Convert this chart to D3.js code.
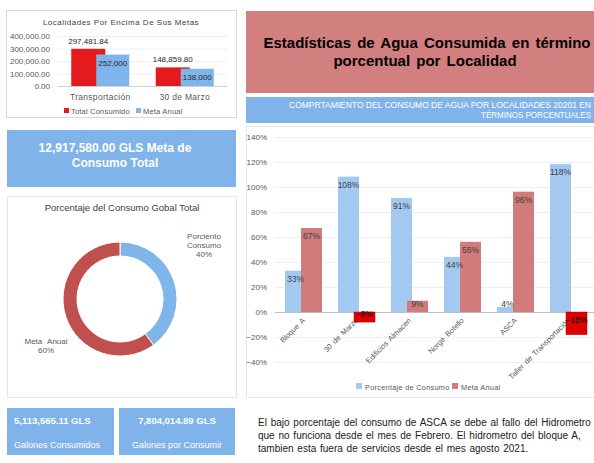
<!DOCTYPE html>
<html>
<head>
<meta charset="utf-8">
<script src="https://cdn.jsdelivr.net/npm/d3@7"></script>
<style>
  html, body { margin: 0; padding: 0; background: #fff; }
  svg { display: block; font-family: "Liberation Sans", Arial, sans-serif; }
</style>
</head>
<body>
<svg id="dash" width="594" height="463"></svg>
<script>
// ---- data ----
const metaCats = ["Transportación", "30 de Marzo"];
const totalConsumido = [297481.84, 148859.80];
const metaAnual = [252000, 138000];
const metaTicks = [0, 100000, 200000, 300000, 400000];

const pieLabels = ["Porciento Consumo", "Meta Anual"];
const pieValues = [40, 60];

const localidades = ["Bloque A", "30 de Marzo", "Edificios Almacen", "Norge Botello", "ASCA", "Taller de Transportación"];
const porcentajeConsumo = [0.33, 1.08, 0.91, 0.44, 0.04, 1.18];
const metaAnualPct = [0.67, -0.08, 0.09, 0.56, 0.96, -0.18];
const pctTicks = [-0.4, -0.2, 0, 0.2, 0.4, 0.6, 0.8, 1.0, 1.2, 1.4];

const metaTotal = 12917580.00;
const galonesConsumidos = 5113565.11;
const galonesPorConsumir = 7804014.89;

const fmt2 = d3.format(",.2f");
const fmt0 = d3.format(",");
const fmtPct = d3.format(".0%");

const svg = d3.select("#dash");
svg.append("rect").attr("width", 594).attr("height", 463).attr("fill", "#fff");

// ---- panel: localidades por encima de sus metas ----
const p1 = svg.append("g");
p1.append("rect").attr("x", 6.5).attr("y", 10.5).attr("width", 230).attr("height", 107)
  .attr("fill", "#fff").attr("stroke", "#d9d9d9");
p1.append("text").attr("x", 121).attr("y", 25).attr("text-anchor", "middle")
  .attr("font-size", 8).attr("letter-spacing", 0.5).attr("fill", "#404040")
  .text("Localidades Por Encima De Sus Metas");

const y1 = d3.scaleLinear().domain([0, 400000]).range([86, 36]);
const x1 = d3.scaleBand().domain(metaCats).range([58, 227]);

p1.append("g").selectAll("line").data(metaTicks).join("line")
  .attr("x1", 58).attr("x2", 227)
  .attr("y1", d => y1(d) + 0.5).attr("y2", d => y1(d) + 0.5)
  .attr("stroke", d => d === 0 ? "#d0d0d0" : "#efefef");

const ax1 = p1.append("g").attr("transform", "translate(53,0)")
  .call(d3.axisLeft(y1).tickValues(metaTicks).tickFormat(fmt2).tickSize(0));
ax1.select(".domain").remove();
ax1.selectAll("text").attr("font-size", 8).attr("fill", "#595959")
  .attr("font-family", "Liberation Sans, Arial, sans-serif");

const bw1 = 34;
p1.append("g").selectAll("rect").data(metaCats).join("rect")
  .attr("x", d => x1(d) + x1.bandwidth() / 2 - 29)
  .attr("y", (d, i) => y1(totalConsumido[i]))
  .attr("width", bw1)
  .attr("height", (d, i) => y1(0) - y1(totalConsumido[i]))
  .attr("fill", "#e41a1c");
p1.append("g").selectAll("rect").data(metaCats).join("rect")
  .attr("x", d => x1(d) + x1.bandwidth() / 2 - 4)
  .attr("y", (d, i) => y1(metaAnual[i]))
  .attr("width", bw1 - 1)
  .attr("height", (d, i) => y1(0) - y1(metaAnual[i]))
  .attr("fill", "#7fb5ea");

p1.append("g").selectAll("text").data(metaCats).join("text")
  .attr("x", d => x1(d) + x1.bandwidth() / 2 - 12)
  .attr("y", (d, i) => y1(totalConsumido[i]) - 5)
  .attr("text-anchor", "middle").attr("font-size", 8).attr("fill", "#262626")
  .text((d, i) => fmt2(totalConsumido[i]));
p1.append("g").selectAll("text").data(metaCats).join("text")
  .attr("x", d => x1(d) + x1.bandwidth() / 2 + 12.5)
  .attr("y", (d, i) => y1(metaAnual[i]) + 11)
  .attr("text-anchor", "middle").attr("font-size", 8).attr("fill", "#262626")
  .text((d, i) => fmt0(metaAnual[i]));

p1.append("g").selectAll("text").data(metaCats).join("text")
  .attr("x", d => x1(d) + x1.bandwidth() / 2)
  .attr("y", 100)
  .attr("text-anchor", "middle").attr("font-size", 8.5).attr("fill", "#595959")
  .attr("letter-spacing", 0.3)
  .text(d => d);

const lg1 = p1.append("g").attr("font-size", 7.5).attr("fill", "#595959").attr("letter-spacing", 0.2);
lg1.append("rect").attr("x", 64).attr("y", 108).attr("width", 5).attr("height", 5).attr("fill", "#e41a1c");
lg1.append("text").attr("x", 71).attr("y", 114).text("Total Consumido");
lg1.append("rect").attr("x", 136).attr("y", 108).attr("width", 5).attr("height", 5).attr("fill", "#7fb5ea");
lg1.append("text").attr("x", 143).attr("y", 114).text("Meta Anual");

// ---- meta total banner ----
svg.append("rect").attr("x", 7).attr("y", 130).attr("width", 229).attr("height", 57).attr("fill", "#7fb3ea");
const mt = svg.append("text").attr("text-anchor", "middle").attr("fill", "#fff")
  .attr("font-weight", "bold").attr("font-size", 12);
mt.append("tspan").attr("x", 115).attr("y", 152).text(fmt2(metaTotal) + " GLS Meta de");
mt.append("tspan").attr("x", 115).attr("y", 167).text("Consumo Total");

// ---- donut: porcentaje del consumo global ----
const p2 = svg.append("g");
p2.append("rect").attr("x", 7.5).attr("y", 196.5).attr("width", 229).attr("height", 201)
  .attr("fill", "#fff").attr("stroke", "#e6e6e6");
p2.append("text").attr("x", 122).attr("y", 211).attr("text-anchor", "middle")
  .attr("font-size", 9.5).attr("fill", "#404040").text("Porcentaje del Consumo Gobal Total");

const pieCols = ["#7eb5ea", "#c0504d"];
const arcs = d3.pie().sort(null)(pieValues);
const arcGen = d3.arc().innerRadius(43).outerRadius(57);
p2.append("g").attr("transform", "translate(120,299)")
  .selectAll("path").data(arcs).join("path")
  .attr("d", arcGen).attr("fill", (d, i) => pieCols[i])
  .attr("stroke", "#fff").attr("stroke-width", 1);

const pl = p2.append("g").attr("font-size", 8).attr("fill", "#595959").attr("text-anchor", "middle");
const l0 = pl.append("text");
l0.append("tspan").attr("x", 204).attr("y", 239).text("Porciento");
l0.append("tspan").attr("x", 204).attr("y", 248).text("Consumo");
l0.append("tspan").attr("x", 204).attr("y", 257).text(pieValues[0] + "%");
const l1 = pl.append("text").attr("word-spacing", 3);
l1.append("tspan").attr("x", 46).attr("y", 344).text(pieLabels[1]);
l1.append("tspan").attr("x", 46).attr("y", 353).text(pieValues[1] + "%");

// ---- bottom tiles ----
const tiles = [
  { x: 7, w: 107, v: galonesConsumidos, t: "Galones Consumidos", anchor: "start", tx: 14 },
  { x: 119, w: 116, v: galonesPorConsumir, t: "Galones por Consumir", anchor: "middle", tx: 177 }
];
const tg = svg.append("g").selectAll("g").data(tiles).join("g");
tg.append("rect").attr("x", d => d.x).attr("y", 408).attr("width", d => d.w).attr("height", 47).attr("fill", "#7fb3ea");
tg.append("text").attr("x", d => d.tx).attr("y", 424).attr("text-anchor", d => d.anchor)
  .attr("fill", "#fff").attr("font-size", 9.5).attr("font-weight", "bold")
  .text(d => fmt2(d.v) + " GLS");
tg.append("text").attr("x", d => d.tx).attr("y", 448).attr("text-anchor", d => d.anchor)
  .attr("fill", "#fff").attr("font-size", 9)
  .text(d => d.t);

// ---- title ----
svg.append("rect").attr("x", 246).attr("y", 11).attr("width", 360).attr("height", 82).attr("fill", "#d17f7f");
const tt = svg.append("text").attr("text-anchor", "middle").attr("font-weight", "bold")
  .attr("font-size", 15).attr("fill", "#000").attr("word-spacing", 2);
tt.append("tspan").attr("x", 427).attr("y", 48).text("Estadísticas de Agua Consumida en término");
tt.append("tspan").attr("x", 425).attr("y", 66).text("porcentual por Localidad");

svg.append("rect").attr("x", 246).attr("y", 97).attr("width", 360).attr("height", 26).attr("fill", "#7fb3ea");
const st = svg.append("text").attr("fill", "#fff").attr("font-size", 8.3);
st.append("tspan").attr("x", 289).attr("y", 108)
  .attr("textLength", 302).attr("lengthAdjust", "spacingAndGlyphs")
  .text("COMPRTAMIENTO DEL  CONSUMO DE AGUA POR LOCALIDADES 20201 EN");
st.append("tspan").attr("x", 481).attr("y", 118)
  .attr("textLength", 110).attr("lengthAdjust", "spacingAndGlyphs")
  .text("TÉRMINOS PORCENTUALES");

// ---- panel: porcentaje por localidad ----
const p3 = svg.append("g");
p3.append("rect").attr("x", 246.5).attr("y", 126.5).attr("width", 360).attr("height", 271)
  .attr("fill", "#fff").attr("stroke", "#e6e6e6");

const y3 = d3.scaleLinear().domain([-0.4, 1.4]).range([362.2, 136.5]);
const x3 = d3.scaleBand().domain(localidades).range([277, 595]);

p3.append("g").selectAll("line").data(pctTicks).join("line")
  .attr("x1", 275).attr("x2", 600)
  .attr("y1", d => Math.round(y3(d)) + 0.5).attr("y2", d => Math.round(y3(d)) + 0.5)
  .attr("stroke", d => d === 0 ? "#bfbfbf" : "#efefef");

const ax3 = p3.append("g").attr("transform", "translate(270,0)")
  .call(d3.axisLeft(y3).tickValues(pctTicks).tickFormat(fmtPct).tickSize(0));
ax3.select(".domain").remove();
ax3.selectAll("text").attr("font-size", 8).attr("fill", "#595959")
  .attr("font-family", "Liberation Sans, Arial, sans-serif");

// category labels sit under the bars
p3.append("g").selectAll("text").data(localidades).join("text")
  .attr("transform", d => `translate(${x3(d) + x3.bandwidth() / 2 + 2},${y3(0) + 9}) rotate(-45)`)
  .attr("text-anchor", "end").attr("font-size", 7.5).attr("fill", "#595959")
  .attr("word-spacing", 1.5)
  .text(d => d);

const bw3 = 21;
const z = y3(0);
p3.append("g").selectAll("rect").data(localidades).join("rect")
  .attr("x", d => x3(d) + 8).attr("width", bw3)
  .attr("y", (d, i) => Math.min(y3(porcentajeConsumo[i]), z))
  .attr("height", (d, i) => Math.abs(y3(porcentajeConsumo[i]) - z))
  .attr("fill", "#a3c9f1");
p3.append("g").selectAll("rect").data(localidades).join("rect")
  .attr("x", d => x3(d) + 24).attr("width", bw3)
  .attr("y", (d, i) => Math.min(y3(metaAnualPct[i]), z))
  .attr("height", (d, i) => Math.abs(y3(metaAnualPct[i]) - z))
  .attr("fill", (d, i) => metaAnualPct[i] < 0 ? "#e00000" : "#d17b7b")
  .attr("stroke", (d, i) => metaAnualPct[i] < 0 ? "#a00000" : "none")
  .attr("stroke-width", 0.5);

// value labels near the bar end, kept inside short bars
function labelY(v) {
  const h = Math.abs(y3(v) - z);
  if (v >= 0) return h > 18 ? y3(v) + 11 : z - 5;
  return h > 18 ? z + 11 : z + 5;
}
p3.append("g").selectAll("text").data(localidades).join("text")
  .attr("x", d => x3(d) + 8 + bw3 / 2)
  .attr("y", (d, i) => labelY(porcentajeConsumo[i]))
  .attr("text-anchor", "middle").attr("font-size", 8.5).attr("fill", "#404040")
  .text((d, i) => fmtPct(porcentajeConsumo[i]));
p3.append("g").selectAll("text").data(localidades).join("text")
  .attr("x", d => x3(d) + 24 + bw3 / 2)
  .attr("y", (d, i) => labelY(metaAnualPct[i]))
  .attr("text-anchor", "middle").attr("font-size", 8.5)
  .attr("fill", (d, i) => metaAnualPct[i] < 0 ? "#000" : "#404040")
  .text((d, i) => fmtPct(metaAnualPct[i]));

const lg3 = p3.append("g").attr("font-size", 7.3).attr("fill", "#595959").attr("letter-spacing", 0.3);
lg3.append("rect").attr("x", 356).attr("y", 383).attr("width", 6).attr("height", 6).attr("fill", "#a3c9f1");
lg3.append("text").attr("x", 365).attr("y", 390).text("Porcentaje de Consumo");
lg3.append("rect").attr("x", 452).attr("y", 383).attr("width", 6).attr("height", 6).attr("fill", "#d17b7b");
lg3.append("text").attr("x", 461).attr("y", 390).text("Meta Anual");

// ---- note ----
const note = svg.append("text").attr("font-size", 10).attr("fill", "#1a1a1a").attr("word-spacing", 1);
note.append("tspan").attr("x", 258).attr("y", 426).text("El bajo porcentaje del consumo de ASCA se debe al fallo del Hidrometro");
note.append("tspan").attr("x", 258).attr("y", 439).text("que no funciona desde el mes de Febrero. El hidrometro del bloque A,");
note.append("tspan").attr("x", 258).attr("y", 452).text("tambien esta fuera de servicios desde el mes agosto 2021.");
</script>
</body>
</html>
